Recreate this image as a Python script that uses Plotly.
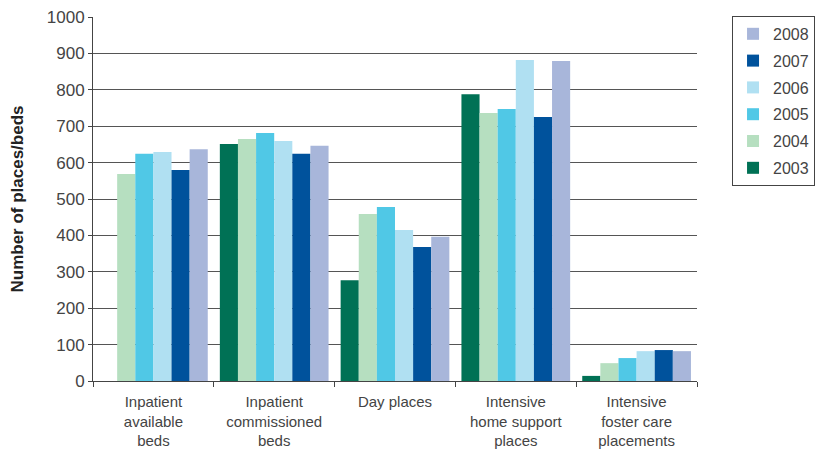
import plotly.graph_objects as go

categories = ["Inpatient<br>available<br>beds", "Inpatient<br>commissioned<br>beds", "Day places",
              "Intensive<br>home support<br>places", "Intensive<br>foster care<br>placements"]
years = ["2003", "2004", "2005", "2006", "2007", "2008"]
v2003 = [None, 651, 277, 788, 14]
v2004 = [569, 665, 459, 736, 49]
v2005 = [624, 681, 478, 747, 63]
v2006 = [629, 659, 415, 882, 82]
v2007 = [580, 624, 368, 725, 85]
v2008 = [637, 646, 396, 879, 82]
series = [v2003, v2004, v2005, v2006, v2007, v2008]
colors = ["#007155", "#b6dfc0", "#50c8e6", "#b0e0f2", "#00529c", "#a8b6da"]

fig = go.Figure()
for i, (y, vals, c) in enumerate(zip(years, series, colors)):
    fig.add_trace(go.Bar(x=categories, y=vals, name=y, legendgroup=y, legendrank=100 - i,
                         marker=dict(color=c, line=dict(width=0))))

# page body has an 8px default margin, so the figure is offset by 8px
fig.update_layout(
    width=815, height=441,
    margin=dict(l=85, r=126, t=9, b=68, autoexpand=False),
    plot_bgcolor="white", paper_bgcolor="white",
    barmode="group", bargap=0.1, bargroupgap=0,
    font=dict(family="Liberation Sans, Arial, sans-serif", size=15, color="#444"),
    legend=dict(traceorder="grouped", x=1.058, y=1.003, xanchor="left", yanchor="top",
                bordercolor="#444", borderwidth=1, font=dict(size=16, color="#444"),
                tracegroupgap=3, itemwidth=30),
    showlegend=True,
)
fig.update_xaxes(showline=True, linecolor="#444", linewidth=1, ticks="outside", tickson="boundaries",
                 ticklen=5, tickcolor="#444", showgrid=False, automargin=False, ticklabelstandoff=7,
                 tickfont=dict(size=15, color="#444"))
fig.update_yaxes(range=[0, 1000], dtick=100, showline=True, linecolor="#444", linewidth=1,
                 gridcolor="#555", gridwidth=1, ticks="outside", ticklen=4, tickcolor="#444",
                 tickfont=dict(size=17, color="#444"), zeroline=False, automargin=False,
                 ticklabeloverflow="allow",
                 title=dict(text="<b>Number of places/beds</b>", font=dict(size=17, color="#222"), standoff=28))

fig.write_html("out.html")
